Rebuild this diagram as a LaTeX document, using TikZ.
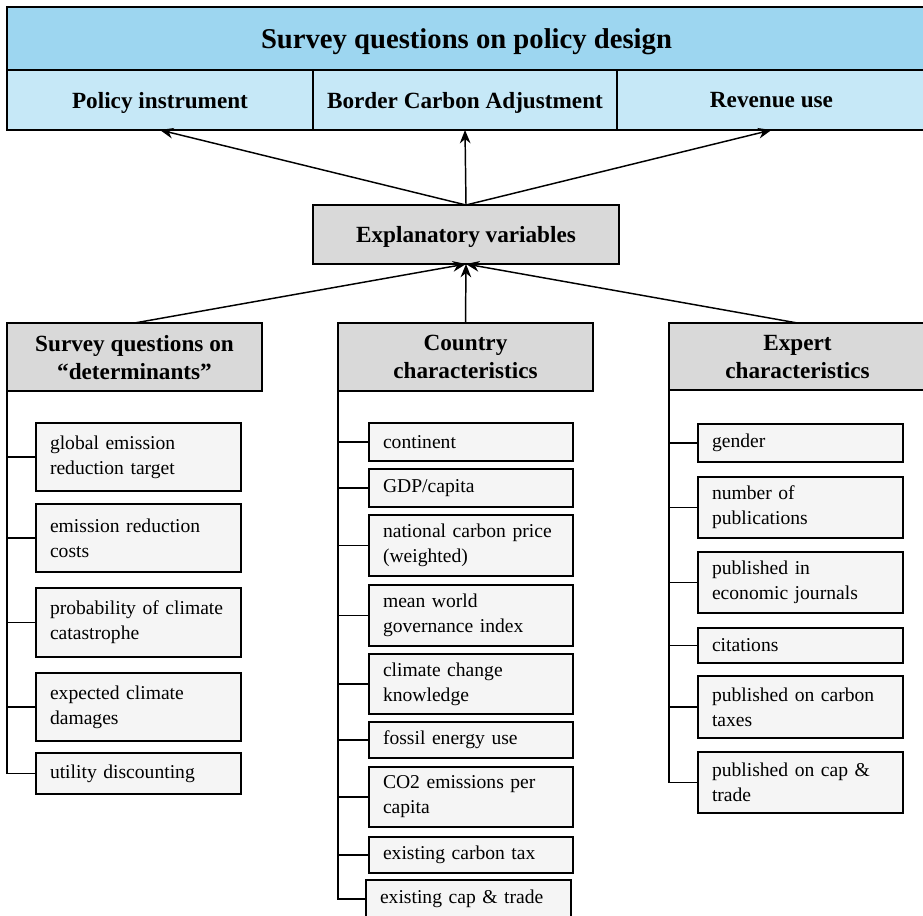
\documentclass[tikz,border=0pt]{standalone}
\usepackage{fontspec}
\setmainfont{Liberation Serif}
\usetikzlibrary{arrows.meta,calc}
\definecolor{bandblue}{RGB}{157,214,240}
\definecolor{subblue}{RGB}{198,232,247}
\definecolor{headgrey}{RGB}{217,217,217}
\definecolor{leafgrey}{RGB}{245,245,245}
\tikzset{
  boxbase/.style={draw, line width=1.1pt, inner xsep=10.5pt, inner ysep=0pt, outer sep=0pt},
  tband/.style={boxbase, fill=bandblue, align=center, inner xsep=1pt, text depth=0pt, font=\fontsize{21.5}{26}\selectfont\bfseries},
  subband/.style={boxbase, fill=subblue, align=center, inner xsep=1pt, text depth=0pt, font=\fontsize{17.4}{21}\selectfont\bfseries},
  ghead/.style={boxbase, fill=headgrey, align=center, inner xsep=1pt, text depth=0pt, font=\fontsize{17.4}{21}\selectfont\bfseries},
  leaf/.style={boxbase, fill=leafgrey, align=left, font=\fontsize{14.7}{18.75}\selectfont},
  arr/.style={line width=1.1pt, -{Stealth[length=10pt,width=8pt]}},
  trunk/.style={line width=1.1pt}
}
% box without text width (manual line breaks, centred)
\newcommand\mkbox[7]{%
  \pgfmathsetmacro\bw{(#5-#3)*0.75}%
  \pgfmathsetmacro\bh{(#6-#4)*0.75}%
  \node[#1, minimum width=\bw pt, minimum height=\bh pt, anchor=north west] (#2) at (#3,#4) {#7};%
}
% leaf box: left-aligned text filling the box
\newcommand\mkleaf[6]{%
  \pgfmathsetmacro\bw{(#4-#2)*0.75}%
  \pgfmathsetmacro\bh{(#5-#3)*0.75}%
  \pgfmathsetmacro\tw{(#4-#2)*0.75-21}%
  \node[leaf, minimum width=\bw pt, minimum height=\bh pt, text width=\tw pt, anchor=north west] (#1) at (#2,#3) {#6};%
}
\begin{document}
\begin{tikzpicture}[x=0.75pt,y=-0.75pt]
\useasboundingbox (0,0) rectangle (923,915);
% top band
\mkbox{tband}{title}{7}{7}{926}{70}{Survey questions on policy design}
\mkbox{subband}{pi}{7}{70}{313}{130}{Policy instrument}
\mkbox{subband}{bca}{313}{70}{617}{130}{Border Carbon Adjustment}
\mkbox{subband}{ru}{617}{70}{926}{130}{Revenue use}
% explanatory
\mkbox{ghead}{ev}{313}{205}{619}{264}{Explanatory variables}
% group heads
\mkbox{ghead}{lh}{7}{323}{262}{391}{Survey questions on\\“determinants”}
\mkbox{ghead}{mh}{338}{323}{593}{391}{Country\\characteristics}
\mkbox{ghead}{rh}{669}{323}{926}{390}{Expert\\characteristics}
% left leaves
\mkleaf{l1}{36}{423}{241}{491}{global emission\\reduction target}
\mkleaf{l2}{36}{504}{241}{572}{emission reduction\\costs}
\mkleaf{l3}{36}{588}{241}{657}{probability of climate\\catastrophe}
\mkleaf{l4}{36}{673}{241}{741}{expected climate\\damages}
\mkleaf{l5}{36}{753}{241}{794}{utility discounting}
% middle leaves
\mkleaf{m1}{369}{423}{573}{461}{continent}
\mkleaf{m2}{369}{469}{573}{507}{GDP/capita}
\mkleaf{m3}{369}{515}{573}{576}{national carbon price\\(weighted)}
\mkleaf{m4}{369}{585}{573}{646}{mean world\\governance index}
\mkleaf{m5}{369}{654}{573}{714}{climate change\\knowledge}
\mkleaf{m6}{369}{722}{573}{758}{fossil energy use}
\mkleaf{m7}{369}{767}{573}{827}{CO2 emissions per\\capita}
\mkleaf{m8}{369}{837}{573}{873}{existing carbon tax}
\mkleaf{m9}{366}{880}{571}{918}{existing cap \& trade}
% right leaves
\mkleaf{r1}{698}{424}{903}{462}{gender}
\mkleaf{r2}{698}{477}{903}{538}{number of\\publications}
\mkleaf{r3}{698}{552}{903}{613}{published in\\economic journals}
\mkleaf{r4}{698}{628}{903}{663}{citations}
\mkleaf{r5}{698}{676}{903}{738}{published on carbon\\taxes}
\mkleaf{r6}{698}{752}{903}{813}{published on cap \&\\trade}
% arrows to policy design
\draw[arr] (ev.north) -- (pi.south);
\draw[arr] (ev.north) -- (bca.south);
\draw[arr] (ev.north) -- (ru.south);
% arrows from groups
\draw[arr] (lh.north) -- (ev.south);
\draw[arr] (mh.north) -- (ev.south);
\draw[arr] (rh.north) -- (ev.south);
% trunks
\draw[trunk] (lh.south west) -- (lh.south west |- l5.west) -- (l5.west);
\foreach \n in {l1,l2,l3,l4} \draw[trunk] (lh.south west |- \n.west) -- (\n.west);
\draw[trunk] (mh.south west) -- (mh.south west |- m9.west) -- (m9.west);
\foreach \n in {m1,m2,m3,m4,m5,m6,m7,m8} \draw[trunk] (mh.south west |- \n.west) -- (\n.west);
\draw[trunk] (rh.south west) -- (rh.south west |- r6.west) -- (r6.west);
\foreach \n in {r1,r2,r3,r4,r5} \draw[trunk] (rh.south west |- \n.west) -- (\n.west);
\end{tikzpicture}
\end{document}
